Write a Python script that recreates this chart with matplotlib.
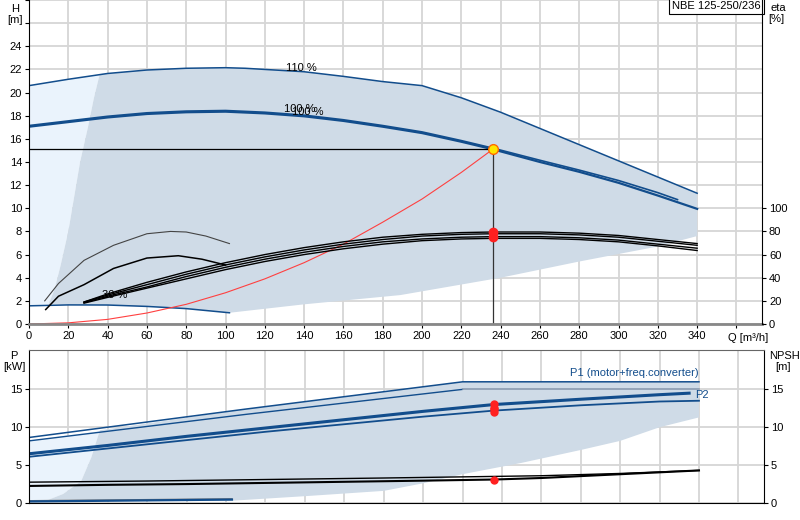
import matplotlib.pyplot as plt
import numpy as np

plt.rcParams['font.family'] = ['Liberation Sans', 'DejaVu Sans']
plt.rcParams['font.size'] = 8

# ---- data ----
# head curves, H [m] against Q [m3/h]
q_110 = [0, 20, 40, 60, 80, 100, 110, 140, 160, 180, 200, 220, 240, 260, 280, 300, 320, 340]
h_110 = [20.6, 21.15, 21.65, 21.95, 22.1, 22.15, 22.1, 21.8, 21.4, 20.95, 20.6, 19.55, 18.3, 16.9, 15.5, 14.1, 12.7, 11.3]

q_100 = [0, 20, 40, 60, 80, 100, 120, 140, 160, 180, 200, 220, 236, 260, 280, 300, 320, 340]
h_100 = [17.05, 17.45, 17.85, 18.15, 18.3, 18.35, 18.2, 17.95, 17.55, 17.05, 16.5, 15.75, 15.1, 14.0, 13.15, 12.2, 11.1, 9.95]
q_100b = [0, 20, 40, 60, 80, 100, 120, 140, 160, 180, 200, 220, 236, 260, 280, 300, 320, 330]
h_100b = [17.15, 17.55, 17.95, 18.25, 18.4, 18.45, 18.3, 18.05, 17.65, 17.15, 16.6, 15.85, 15.2, 14.15, 13.3, 12.4, 11.35, 10.75]

q_min = [0, 20, 40, 60, 80, 102]
h_min = [1.57, 1.65, 1.64, 1.52, 1.33, 0.97]

# system curve
q_sys = [0, 20, 40, 60, 80, 100, 120, 140, 160, 180, 200, 220, 236]
h_sys = [0, 0.1, 0.4, 0.95, 1.7, 2.7, 3.9, 5.3, 6.9, 8.8, 10.8, 13.1, 15.1]

# duty point
q_duty = 236
h_duty = 15.1

# operating area (top)
area_q = [10, 13, 16, 20, 23, 26, 30, 33, 36, 40, 60, 80, 100, 110, 140, 160, 180, 200, 220, 240, 260, 280,
          300, 320, 340, 340, 320, 280, 240, 189, 140, 102, 80, 60, 40, 20, 10]
area_h = [1.7, 3.0, 5.0, 8.0, 11.0, 14.0, 17.0, 19.5, 21.6, 21.65, 21.95, 22.1, 22.15, 22.1, 21.8, 21.4, 20.95,
          20.6, 19.55, 18.3, 16.9, 15.5, 14.1, 12.7, 11.3, 7.6, 6.7, 5.4, 4.0, 2.5, 1.7, 0.97, 1.33, 1.52, 1.64, 1.65, 1.7]
light_q = [0, 0, 20, 36, 33, 30, 26, 23, 20, 16, 13, 10]
light_h = [1.57, 20.6, 21.15, 21.6, 19.5, 17.0, 14.0, 11.0, 8.0, 5.0, 3.0, 1.7]

# efficiency curves, eta [%]
q_eta = [28, 40, 60, 80, 100, 120, 140, 160, 180, 200, 220, 236, 260, 280, 300, 320, 340]
eta_a = [19, 26, 36, 45, 53, 60, 66, 71, 75, 77.5, 79, 79.5, 79.5, 78.5, 76.5, 73, 69.5]
eta_b = [19, 25, 34, 43, 51, 58, 64, 69, 73, 76, 77.5, 78, 78, 77, 75, 71.5, 68]
eta_c = [18.5, 24, 32, 41, 49, 56, 62, 67, 71, 73.5, 75, 75.5, 75.5, 74.5, 72.5, 69, 65.5]
eta_d = [18, 23, 31, 39, 47, 54, 60, 65, 69, 72, 73.5, 74, 74, 73, 71, 67.5, 63.5]
q_eta80 = [8, 15, 28, 43, 60, 72, 80, 90, 102]
eta_80 = [20, 35, 55, 68, 78, 80, 79.5, 76, 69.5]
q_eta60 = [8.5, 15, 28, 43, 60, 76, 88, 100]
eta_60 = [12.5, 24, 34, 48, 57, 59, 56, 51]
eta_duty = [79.7, 74.9]

# power curves, P [kW]
q_ptop = [0, 110, 220, 340]
p_top = [8.65, 12.4, 16.0, 16.0]
p_top2 = [8.2, 11.7, 15.0, 15.0]
q_p1 = [0, 40, 80, 120, 160, 200, 236, 280, 320, 335]
p_1 = [6.5, 7.6, 8.8, 9.9, 11.0, 12.1, 13.0, 13.7, 14.3, 14.5]
q_p2 = [0, 40, 80, 120, 160, 200, 236, 280, 320, 340]
p_2 = [6.1, 7.2, 8.3, 9.4, 10.4, 11.4, 12.2, 12.9, 13.4, 13.5]
q_pmin = [0, 103]
p_min = [0.2, 0.45]
p_min2 = [0.3, 0.55]
p_duty = [13.1, 12.6, 12.4, 12.05]

# npsh curves [m]
q_npsh1 = [0, 60, 120, 180, 220, 260, 300, 340]
npsh_1 = [2.75, 2.9, 3.1, 3.3, 3.45, 3.6, 3.9, 4.3]
q_npsh2 = [0, 40, 80, 120, 160, 200, 236, 260, 300, 340]
npsh_2 = [2.25, 2.4, 2.5, 2.65, 2.8, 2.95, 3.1, 3.3, 3.8, 4.3]
npsh_duty = 3.05

# operating area (bottom)
parea_q = [9.6, 17.4, 26.5, 31.6, 36, 110, 220, 340, 340, 320, 300, 280, 250, 220, 200, 180, 140, 103, 9.6]
parea_p = [0.4, 1.2, 2.9, 6.0, 9.6, 12.4, 16.0, 16.0, 11.3, 10.0, 8.2, 7.0, 5.3, 3.8, 2.6, 1.6, 0.9, 0.3, 0.25]
plight_q = [0, 0, 36, 31.6, 26.5, 17.4, 9.6]
plight_p = [0.25, 8.2, 9.5, 6.0, 2.9, 1.2, 0.4]

blue = '#124d8c'
fill_c = '#cfdbe7'
light_c = '#eaf3fc'
grid_c = '#d6d6d6'

fig = plt.figure(figsize=(8, 5.2), dpi=100)

# ---------------- top : head / efficiency ----------------
ax = fig.add_axes([29 / 800, 1 - 324 / 520, 733 / 800, 324 / 520])
ax.set_xlim(0, 373)
ax.set_ylim(0, 28)
ax.fill(light_q, light_h, color=light_c, lw=0)
ax.fill(area_q, area_h, color=fill_c, lw=0)

ax.set_xticks(np.arange(0, 361, 20))
ax.set_xticklabels([str(v) for v in range(0, 341, 20)] + [''])
ax.set_yticks(np.arange(0, 29, 2))
ax.set_yticklabels([str(v) for v in range(0, 25, 2)] + ['', ''])
ax.grid(True, color=grid_c, lw=1.3)
ax.set_axisbelow(True)
ax.tick_params(length=3, width=0.8, pad=2)
for s in ['top', 'right']:
    ax.spines[s].set_visible(False)
ax.spines['bottom'].set_color('#888888')
ax.spines['bottom'].set_linewidth(2)

ax.plot(q_110, h_110, color=blue, lw=1.1)
ax.plot(q_100, h_100, color=blue, lw=1.6)
ax.plot(q_100b, h_100b, color=blue, lw=1.2)
ax.plot(q_min, h_min, color=blue, lw=1.1)
ax.plot(q_sys, h_sys, color='#ff4040', lw=0.8)
ax.plot([0, q_duty], [h_duty, h_duty], color='black', lw=0.9)
ax.plot([q_duty, q_duty], [0, h_duty], color='#333333', lw=0.9)
ax.plot(q_duty, h_duty, 'o', ms=7, mfc='#ffe600', mec='#ff6a00', mew=1)

ax.text(131, 22.1, '110 %', va='center', fontsize=8)
ax.text(130, 18.6, '100 %', va='center', fontsize=8)
ax.text(134, 18.3, '100 %', va='center', fontsize=8)
ax.text(37, 2.5, '30 %', va='center', fontsize=8)
ax.text(366, -0.75, 'Q [m³/h]', ha='center', va='top', fontsize=8)
ax.text(0.9985, 0.998, 'NBE 125-250/236', transform=ax.transAxes, ha='right', va='top',
        fontsize=8, bbox=dict(boxstyle='square,pad=0.3', fc='white', ec='black', lw=0.8))

# efficiency axis
ax2 = ax.twinx()
ax2.set_ylim(0, 280)
ax2.set_yticks(np.arange(0, 101, 20))
ax2.tick_params(length=3, width=0.8, pad=2)
for s in ['top', 'left', 'bottom']:
    ax2.spines[s].set_visible(False)
for e in [eta_a, eta_b, eta_c, eta_d]:
    ax2.plot(q_eta, e, color='black', lw=1.0)
ax2.plot(q_eta80, eta_80, color='#444444', lw=0.8)
ax2.plot(q_eta60, eta_60, color='black', lw=1.1)
ax2.plot([q_duty] * 2, eta_duty, 'o', ms=6, color='#ff2020')

fig.text(15 / 800, 1 - 9 / 520, 'H', ha='center', va='center')
fig.text(15 / 800, 1 - 20 / 520, '[m]', ha='center', va='center')
fig.text(778 / 800, 1 - 8 / 520, 'eta', ha='center', va='center')
fig.text(776 / 800, 1 - 19 / 520, '[%]', ha='center', va='center')

# ---------------- bottom : power / npsh ----------------
bx = fig.add_axes([29 / 800, 1 - 503 / 520, 735 / 800, 153 / 520])
bx.set_xlim(0, 373)
bx.set_ylim(0, 20.2)
bx.fill(plight_q, plight_p, color=light_c, lw=0)
bx.fill(parea_q, parea_p, color=fill_c, lw=0)
bx.set_xticks(np.arange(0, 361, 20))
bx.set_xticklabels([])
bx.tick_params(axis='x', length=0)
bx.set_yticks([0, 5, 10, 15])
bx.tick_params(axis='y', length=3, width=0.8, pad=2, right=True, labelright=True)
bx.grid(True, color=grid_c, lw=1.3)
bx.set_axisbelow(True)
bx.spines['top'].set_color('#666666')

bx.plot(q_ptop, p_top, color=blue, lw=1.1)
bx.plot(q_ptop[:3], p_top2[:3], color=blue, lw=1.0)
bx.plot(q_ptop[2:], p_top2[2:], color='#8a9bb0', lw=1.2)
bx.plot(q_p1, p_1, color=blue, lw=2.2)
bx.plot(q_p2, p_2, color=blue, lw=1.3)
bx.plot(q_pmin, p_min2, color='#777777', lw=1.0)
bx.plot(q_pmin, p_min, color=blue, lw=1.6)
bx.plot(q_npsh1, npsh_1, color='black', lw=1.0)
bx.plot(q_npsh2, npsh_2, color='black', lw=1.5)
bx.plot([q_duty] * 4, p_duty, 'o', ms=5, color='#ff2020')
bx.plot(q_duty, npsh_duty, 'o', ms=5, color='#ff2020')
bx.text(307, 17.1, 'P1 (motor+freq.converter)', color=blue, ha='center', va='center', fontsize=8)
bx.text(338, 14.3, 'P2', color=blue, ha='left', va='center', fontsize=8)

fig.text(14 / 800, 1 - 356 / 520, 'P', ha='center', va='center')
fig.text(14 / 800, 1 - 367 / 520, '[kW]', ha='center', va='center')
fig.text(784 / 800, 1 - 356 / 520, 'NPSH', ha='center', va='center')
fig.text(783 / 800, 1 - 367 / 520, '[m]', ha='center', va='center')

plt.savefig('out.png', dpi=100)
